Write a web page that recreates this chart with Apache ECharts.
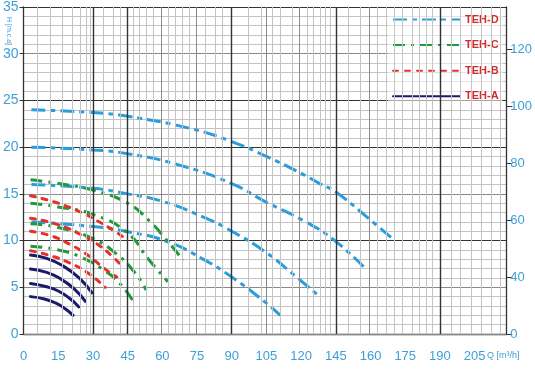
<!DOCTYPE html>
<html><head><meta charset="utf-8">
<script src="https://cdn.jsdelivr.net/npm/echarts@6/dist/echarts.min.js"></script>
<style>html,body{margin:0;padding:0;background:#fff}#c{width:535px;height:371px}</style>
</head><body><div id="c"></div>
<script>
// tick labels (as printed on the original)
const xTickLabels = ['0','15','30','45','60','75','90','105','120','145','160','175','190','205'];
const leftTickLabels = ['0','5','10','15','20','25','30','35'];
const rightTickLabels = ['0','40','60','80','100','120'];
const modelNames = ['TEH-D','TEH-C','TEH-B','TEH-A'];

// curves: [Q, H]
const tehD1 = [[3.4,24.0],[30,23.7],[45,23.3],[72,22.0],[90,20.6],[105,19.0],[120,17.2],[128,16.1],[135,15.2],[149,12.4],[160,10.1]];
const tehD2 = [[3.4,20.0],[30,19.7],[45,19.3],[67,18.1],[90,16.1],[105,14.1],[122,12.0],[134,10.1],[147,7.2]];
const tehD3 = [[3.4,16.0],[30,15.6],[45,15.0],[60,14.2],[77,12.6],[90,11.0],[105,8.7],[117,6.3],[128,4.0]];
const tehD4 = [[3.4,12.0],[30,11.5],[45,10.95],[62,9.9],[77,8.1],[90,6.1],[105,3.3],[111,2.0]];

const tehC1 = [[3,16.5],[15,16.1],[30,15.4],[45,14.0],[54,12.2],[62,10.0],[69,7.9]];
const tehC2 = [[3,14.0],[15,13.6],[30,12.8],[45,10.8],[54,8.0],[62.4,5.6]];
const tehC3 = [[3,11.8],[15,11.4],[30,10.2],[40,8.6],[48,6.6],[53,4.7]];
const tehC4 = [[3,9.4],[15,9.0],[25,8.2],[35,6.8],[42,5.3],[47.4,3.5]];

const tehB1 = [[3,14.8],[15,14.0],[25,13.0],[32,12.1],[40,10.9],[44.6,10.1]];
const tehB2 = [[3,12.4],[15,11.7],[25,10.6],[32,9.6],[38,8.4],[42,7.4]];
const tehB3 = [[3,11.0],[12,10.5],[20,9.6],[28,8.4],[35,7.0],[40.3,6.1]];
const tehB4 = [[3,8.9],[10,8.5],[20,7.6],[28,6.5],[35.3,5.0]];

const tehA1 = [[3,8.45],[10,8.1],[17,7.3],[24,6.0],[29.6,4.4]];
const tehA2 = [[3,6.95],[10,6.6],[16,5.9],[22,4.8],[26.7,3.5]];
const tehA3 = [[3,5.4],[10,5.05],[15,4.6],[20,3.8],[23.9,2.9]];
const tehA4 = [[3,4.0],[9,3.75],[14,3.3],[18,2.7],[21.4,2.0]];

const curvesByModel = {
  'TEH-D':[tehD1,tehD2,tehD3,tehD4],
  'TEH-C':[tehC1,tehC2,tehC3,tehC4],
  'TEH-B':[tehB1,tehB2,tehB3,tehB4],
  'TEH-A':[tehA1,tehA2,tehA3,tehA4]
};

// styles
const styles = {
  'TEH-D':{color:'#2a9ddc', type:[14,5,5,5], cap:'butt'},
  'TEH-C':{color:'#1f9a3c', type:[12,6,3,6], cap:'butt'},
  'TEH-B':{color:'#e5312a', type:[5,7], cap:'round'},
  'TEH-A':{color:'#1c1a6b', type:'solid', cap:'round'}
};
// log-paper vertical grid (axis units)
const gridXLight = [6,11.6,16.7,21,24.4,27,28.7,34.6,38.9,41.7,47.6,50.1,53.1,56.1,62.6,65.6,68.6,71.6,78.4,82.7,86.1,97.3,102.9,107.6,111,116.1,122.6,125.1,128.1,130.3,132.4,140.4,145.6,153,156.9,160.3,163.7,168,171,174,176.6,184.7,189,193.7,198,202.3,206.1];
const gridXMedium = [59.6,74.6,105,119.1,149.6];
const gridXDark = [30,45,90,135,180];

const FT = 3.28084;
const axisBlue = '#3d9fd8';
const font = '"Liberation Sans Narrow","Liberation Sans",Arial,sans-serif';

const series = [];
const mk = [];
gridXLight.forEach(v=>mk.push({xAxis:v, lineStyle:{color:'#c4c4c4', width:1, type:'solid'}}));
gridXMedium.forEach(v=>mk.push({xAxis:v, lineStyle:{color:'#8a8a8a', width:1, type:'solid'}}));
gridXDark.forEach(v=>mk.push({xAxis:v, lineStyle:{color:'#333', width:1.4, type:'solid'}}));
series.push({type:'line', data:[], silent:true, z:0,
  markLine:{silent:true, symbol:['none','none'], label:{show:false}, animation:false, data:mk}});

modelNames.forEach(name=>{
  const s = styles[name];
  curvesByModel[name].forEach(c=>{
    series.push({name, type:'line', data:c, smooth:0.5, showSymbol:false, symbol:'none', z:3,
      color:s.color, lineStyle:{color:s.color, width:3, type:s.type, cap:s.cap}});
  });
});

const majorH = ['#8a8a8a','#8a8a8a','#333','#8a8a8a','#333','#333','#8a8a8a','#333'];

const chart = echarts.init(document.getElementById('c'), null, {renderer:'canvas'});
chart.setOption({
  animation:false,
  backgroundColor:'#fff',
  grid:{left:21, right:27, top:7, bottom:37, containLabel:false},
  legend:{
    data:modelNames, orient:'vertical', left:388, top:11,
    itemWidth:67, itemHeight:10, itemGap:14.6,
    itemStyle:{color:'rgba(0,0,0,0)', borderWidth:0},
    backgroundColor:'rgba(255,255,255,0.55)', padding:[3,4,3,4],
    textStyle:{color:'#d42a2a', fontWeight:'bold', fontSize:11, fontFamily:font}
  },
  xAxis:{type:'value', min:0, max:208.7, interval:15,
    axisLine:{lineStyle:{color:'#333', width:1.3}},
    axisTick:{show:false},
    splitLine:{show:false},
    axisLabel:{color:axisBlue, fontSize:13, fontFamily:font, margin:16, showMaxLabel:false,
      formatter:v=>{const i=Math.round(v/15); return (Math.abs(v-i*15)<1e-6 && xTickLabels[i]!==undefined)?xTickLabels[i]:'';}}
  },
  yAxis:[
    {type:'value', min:0, max:35, interval:5, position:'left', z:2,
      axisLine:{show:true, lineStyle:{color:'#333', width:1.3}},
      axisTick:{show:true, length:4, lineStyle:{color:'#333'}},
      axisLabel:{color:axisBlue, fontSize:14, fontFamily:font, margin:5,
        formatter:v=>leftTickLabels[Math.round(v/5)]},
      splitLine:{show:true, lineStyle:{color:majorH, width:1.2}}
    },
    {type:'value', min:0, max:35*FT, interval:20, position:'right', z:2,
      axisLine:{show:true, lineStyle:{color:'#333', width:1.3}},
      axisTick:{show:true, length:6, lineStyle:{color:'#333'}},
      axisLabel:{color:axisBlue, fontSize:13, fontFamily:font, margin:4, showMaxLabel:false,
        formatter:v=>{const i=Math.round(v/20); return rightTickLabels[i]!==undefined?rightTickLabels[i]:'';}},
      splitLine:{show:false}
    },
    {type:'value', min:0, max:35, interval:1, show:true, z:-1,
      axisLine:{show:false}, axisTick:{show:false}, axisLabel:{show:false},
      splitLine:{show:true, lineStyle:{color:'#c4c4c4', width:1}}
    }
  ],
  graphic:[
    {type:'text', left:5, top:17, rotation:-Math.PI/2, style:{text:'H [m.c.a]', fill:axisBlue, fontSize:7, fontFamily:font}},
    {type:'text', left:487, top:351, style:{text:'Q [m³/h]', fill:axisBlue, fontSize:9, fontFamily:font}}
  ],
  series
});
</script></body></html>
